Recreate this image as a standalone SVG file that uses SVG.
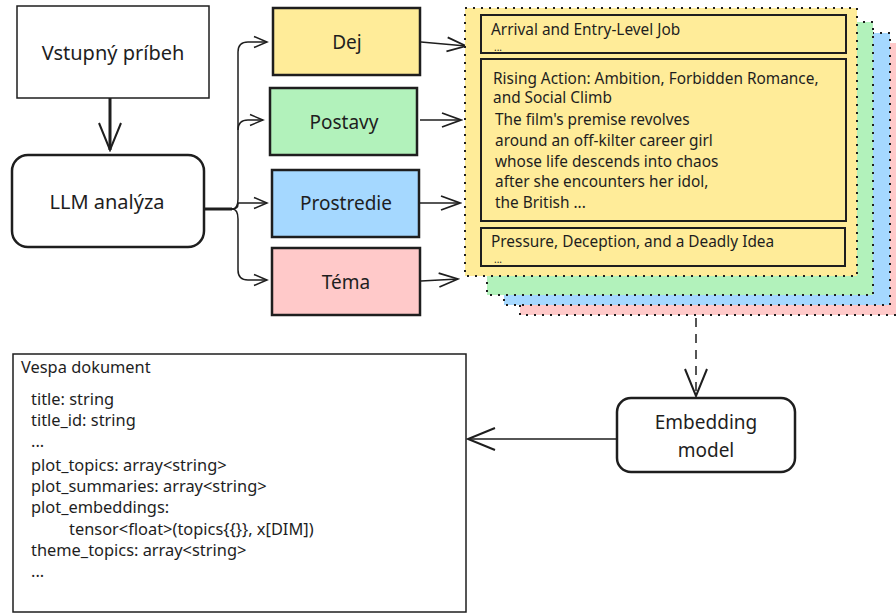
<svg xmlns="http://www.w3.org/2000/svg" width="896" height="613" viewBox="0 0 896 613">
  <style>
    text { font-family: "Noto Sans", "Open Sans", sans-serif; fill: #1e1e1e; }
    .lbl { font-size: 19px; text-anchor: middle; }
    .big { font-size: 20px; text-anchor: middle; }
    .sm { font-size: 15.4px; }
    .doc { font-size: 16.4px; }
    .dots { font-size: 10px; }
    .box { stroke: #1e1e1e; stroke-width: 2.5; }
    .thin { fill: #ffffff; stroke: #1e1e1e; stroke-width: 1.5; }
    .card { stroke: #1e1e1e; stroke-width: 2; stroke-dasharray: 2 6; }
    .inner { fill: #ffec99; stroke: #1e1e1e; stroke-width: 2; }
    .wire { fill: none; stroke: #1e1e1e; stroke-width: 1.5; }
    .trunk { fill: none; stroke: #1e1e1e; stroke-width: 3; }
    .yellow { fill: #ffec99; }
    .green { fill: #b2f2bb; }
    .blue { fill: #a5d8ff; }
    .red { fill: #ffc9c9; }
  </style>
  <defs>
    <marker id="head-s" markerUnits="userSpaceOnUse" markerWidth="16" markerHeight="14" viewBox="0 0 16 14" refX="14" refY="7" orient="auto">
      <path d="M1,1.5 L14,7 L1,12.5" fill="none" stroke="#1e1e1e" stroke-width="1.5"/>
    </marker>
    <marker id="head-m" markerUnits="userSpaceOnUse" markerWidth="22" markerHeight="18" viewBox="0 0 22 18" refX="20" refY="9" orient="auto">
      <path d="M1,2 L20,9 L1,16" fill="none" stroke="#1e1e1e" stroke-width="1.8"/>
    </marker>
    <marker id="head-l" markerUnits="userSpaceOnUse" markerWidth="30" markerHeight="26" viewBox="0 0 30 26" refX="28" refY="13" orient="auto">
      <path d="M1,2 L28,13 L1,24" fill="none" stroke="#1e1e1e" stroke-width="2"/>
    </marker>
  </defs>

  <!-- connectors -->
  <g id="connectors">
    <line class="trunk" x1="110" y1="98" x2="110" y2="150" marker-end="url(#head-l)"/>
    <path class="trunk" d="M204,209 L232,209"/>
    <path class="wire" d="M232,209 Q238,209 238,199 L238,52 Q238,42 248,42 L267,42" marker-end="url(#head-s)"/>
    <path class="wire" d="M238,130 Q238,120 248,120 L263,120" marker-end="url(#head-s)"/>
    <path class="wire" d="M232,209 Q238,209 238,204 L238,203 L267,203" marker-end="url(#head-s)"/>
    <path class="wire" d="M232,209 Q238,209 238,219 L238,270 Q238,280 248,280 L267,280" marker-end="url(#head-s)"/>
    <line class="wire" x1="421" y1="42" x2="466" y2="46" marker-end="url(#head-m)"/>
    <line class="wire" x1="420" y1="120" x2="461" y2="120" marker-end="url(#head-m)"/>
    <line class="wire" x1="420" y1="203" x2="460" y2="203" marker-end="url(#head-m)"/>
    <line class="wire" x1="421" y1="281" x2="458" y2="279" marker-end="url(#head-m)"/>
    <line class="wire" x1="696" y1="318" x2="696" y2="396" stroke-dasharray="9 7" marker-end="url(#head-l)"/>
    <line class="wire" x1="617" y1="439" x2="468" y2="439" marker-end="url(#head-l)"/>
  </g>

  <g id="input-story">
    <rect class="thin" x="17" y="6" width="192" height="92"/>
    <text class="big" x="113" y="60">Vstupný príbeh</text>
  </g>

  <g id="llm-analysis">
    <rect class="box" fill="#ffffff" x="12" y="155" width="192" height="92" rx="16"/>
    <text class="big" x="107" y="209">LLM analýza</text>
  </g>

  <g id="dej">
    <rect class="box yellow" x="273" y="8" width="147" height="67"/>
    <text class="lbl" x="347" y="49">Dej</text>
  </g>
  <g id="postavy">
    <rect class="box green" x="270" y="88" width="147" height="67"/>
    <text class="lbl" x="344" y="129">Postavy</text>
  </g>
  <g id="prostredie">
    <rect class="box blue" x="272" y="170" width="147" height="67"/>
    <text class="lbl" x="346" y="210">Prostredie</text>
  </g>
  <g id="tema">
    <rect class="box red" x="272" y="248" width="148" height="67"/>
    <text class="lbl" x="346" y="289">Téma</text>
  </g>

  <!-- stacked result cards, back to front -->
  <g id="cards">
    <rect class="card red" x="520" y="43" width="380" height="272"/>
    <rect class="card blue" x="504" y="33" width="386" height="272"/>
    <rect class="card green" x="487" y="22" width="386" height="273"/>
    <rect class="card yellow" x="465" y="8" width="392" height="268"/>

    <rect class="inner" x="481" y="15" width="365" height="38"/>
    <text class="sm" x="491" y="34.5">Arrival and Entry-Level Job</text>
    <text class="dots" x="494" y="50.5">...</text>

    <rect class="inner" x="481" y="59" width="365" height="162"/>
    <text class="sm" x="493" y="84">Rising Action: Ambition, Forbidden Romance,</text>
    <text class="sm" x="493" y="103">and Social Climb</text>
    <text class="sm" x="495" y="125">The film's premise revolves</text>
    <text class="sm" x="495" y="146">around an off-kilter career girl</text>
    <text class="sm" x="495" y="167">whose life descends into chaos</text>
    <text class="sm" x="495" y="187">after she encounters her idol,</text>
    <text class="sm" x="495" y="208">the British ...</text>

    <rect class="inner" x="481" y="228" width="364" height="38"/>
    <text class="sm" x="491" y="247">Pressure, Deception, and a Deadly Idea</text>
    <text class="dots" x="494" y="263">...</text>
  </g>

  <g id="embedding-model">
    <rect class="box" fill="#ffffff" x="617" y="398" width="178" height="74" rx="14"/>
    <text class="lbl" x="706" y="429">Embedding</text>
    <text class="lbl" x="706" y="457">model</text>
  </g>

  <g id="vespa-document">
    <rect class="thin" x="13" y="354" width="453" height="258"/>
    <text class="doc" x="21" y="373">Vespa dokument</text>
    <text class="doc" x="31" y="405">title: string</text>
    <text class="doc" x="31" y="426">title_id: string</text>
    <text class="doc" x="31" y="447">...</text>
    <text class="doc" x="31" y="471">plot_topics: array&lt;string&gt;</text>
    <text class="doc" x="31" y="492">plot_summaries: array&lt;string&gt;</text>
    <text class="doc" x="31" y="513">plot_embeddings:</text>
    <text class="doc" x="69" y="535">tensor&lt;float&gt;(topics{{}}, x[DIM])</text>
    <text class="doc" x="31" y="556">theme_topics: array&lt;string&gt;</text>
    <text class="doc" x="31" y="577">...</text>
  </g>
</svg>
